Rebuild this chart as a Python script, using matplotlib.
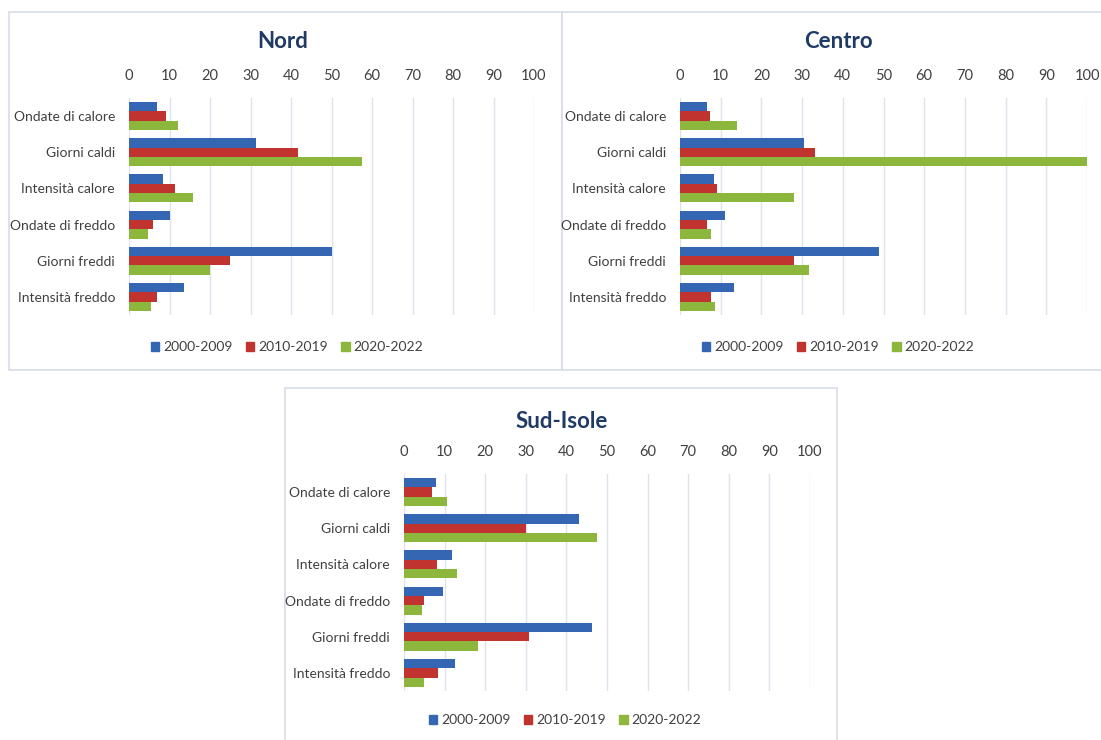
import matplotlib
matplotlib.use("Agg")
import matplotlib.pyplot as plt
import matplotlib.patches as mpatches
import numpy as np

plt.rcParams['font.family'] = ['Lato', 'DejaVu Sans']

categories = ["Ondate di calore", "Giorni caldi", "Intensità calore",
              "Ondate di freddo", "Giorni freddi", "Intensità freddo"]
periods = ["2000-2009", "2010-2019", "2020-2022"]
x_ticks = [0, 10, 20, 30, 40, 50, 60, 70, 80, 90, 100]

nord_2000_2009 = [6.8, 31.4, 8.5, 10.1, 50.0, 13.6]
nord_2010_2019 = [9.2, 41.7, 11.3, 6.0, 25.0, 6.8]
nord_2020_2022 = [12.0, 57.5, 15.8, 4.7, 20.0, 5.5]

centro_2000_2009 = [6.6, 30.5, 8.3, 11.1, 48.8, 13.2]
centro_2010_2019 = [7.4, 33.1, 9.0, 6.6, 28.0, 7.7]
centro_2020_2022 = [14.0, 100.0, 27.9, 7.7, 31.8, 8.5]

sud_2000_2009 = [8.0, 43.1, 11.8, 9.7, 46.2, 12.5]
sud_2010_2019 = [7.0, 30.0, 8.1, 4.9, 30.9, 8.4]
sud_2020_2022 = [10.7, 47.5, 13.0, 4.5, 18.3, 5.0]

colors = ["#3466b4", "#c0332f", "#8db63c"]
title_color = "#1f3a66"
text_color = "#404040"
grid_color = "#dde3ec"
frame_color = "#d6dce6"

W, H = 1101, 740
fig = plt.figure(figsize=(W / 100, H / 100), dpi=100)
fig.patch.set_facecolor("white")


def fx(px):
    return px / W


def fy(py):
    return 1 - py / H


def frame(x0, y0, x1, y1):
    rect = mpatches.Rectangle((fx(x0), fy(y1)), fx(x1) - fx(x0), fy(y0) - fy(y1),
                              transform=fig.transFigure, facecolor="white",
                              edgecolor=frame_color, linewidth=1.2, zorder=-5)
    fig.patches.append(rect)


def panel(title, series, ax_box, title_xy, legend_xy):
    x0, y0, x1, y1 = ax_box
    ax = fig.add_axes([fx(x0), fy(y1), fx(x1) - fx(x0), fy(y0) - fy(y1)])
    ax.set_facecolor("none")
    ax.patch.set_alpha(0)
    n = len(categories)
    y = np.arange(n)
    h = 0.257
    for k, vals in enumerate(series):
        ax.barh(y + (k - 1) * h, vals, height=h, color=colors[k],
                edgecolor="none", zorder=3, label=periods[k])
    ax.set_xlim(0, 100)
    ax.set_ylim(n - 0.5, -0.5)
    ax.set_xticks(x_ticks)
    ax.set_xticklabels([str(t) for t in x_ticks])
    ax.set_yticks(y)
    ax.set_yticklabels(categories)
    ax.xaxis.tick_top()
    ax.tick_params(axis="x", length=0, pad=11, labelsize=10.5, labelcolor=text_color)
    ax.tick_params(axis="y", length=0, pad=10, labelsize=10, labelcolor=text_color)
    ax.grid(axis="x", color=grid_color, linewidth=1.0, zorder=0)
    ax.set_axisbelow(True)
    for s in ax.spines.values():
        s.set_visible(False)
    fig.text(fx(title_xy[0]), fy(title_xy[1]), title, ha="center", va="center",
             fontsize=16, fontweight="bold", color=title_color)
    handles = [mpatches.Patch(color=c, label=p) for c, p in zip(colors, periods)]
    fig.legend(handles=handles, loc="center", ncol=3,
               bbox_to_anchor=(fx(legend_xy[0]), fy(legend_xy[1])),
               frameon=False, fontsize=10, handlelength=0.6, handleheight=0.6,
               handletextpad=0.25, columnspacing=1.0, labelcolor=text_color)


frame(9, 12, 562, 370)
frame(562, 12, 1110, 370)
frame(285, 388, 837, 750)

panel("Nord", [nord_2000_2009, nord_2010_2019, nord_2020_2022],
      (129, 98, 534, 315), (283, 42), (287, 347))
panel("Centro", [centro_2000_2009, centro_2010_2019, centro_2020_2022],
      (680, 98, 1087, 315), (838, 42), (838, 347))
panel("Sud-Isole", [sud_2000_2009, sud_2010_2019, sud_2020_2022],
      (404, 474, 810, 691), (562, 422), (565, 720))

fig.savefig("out.png", dpi=100, facecolor="white")
